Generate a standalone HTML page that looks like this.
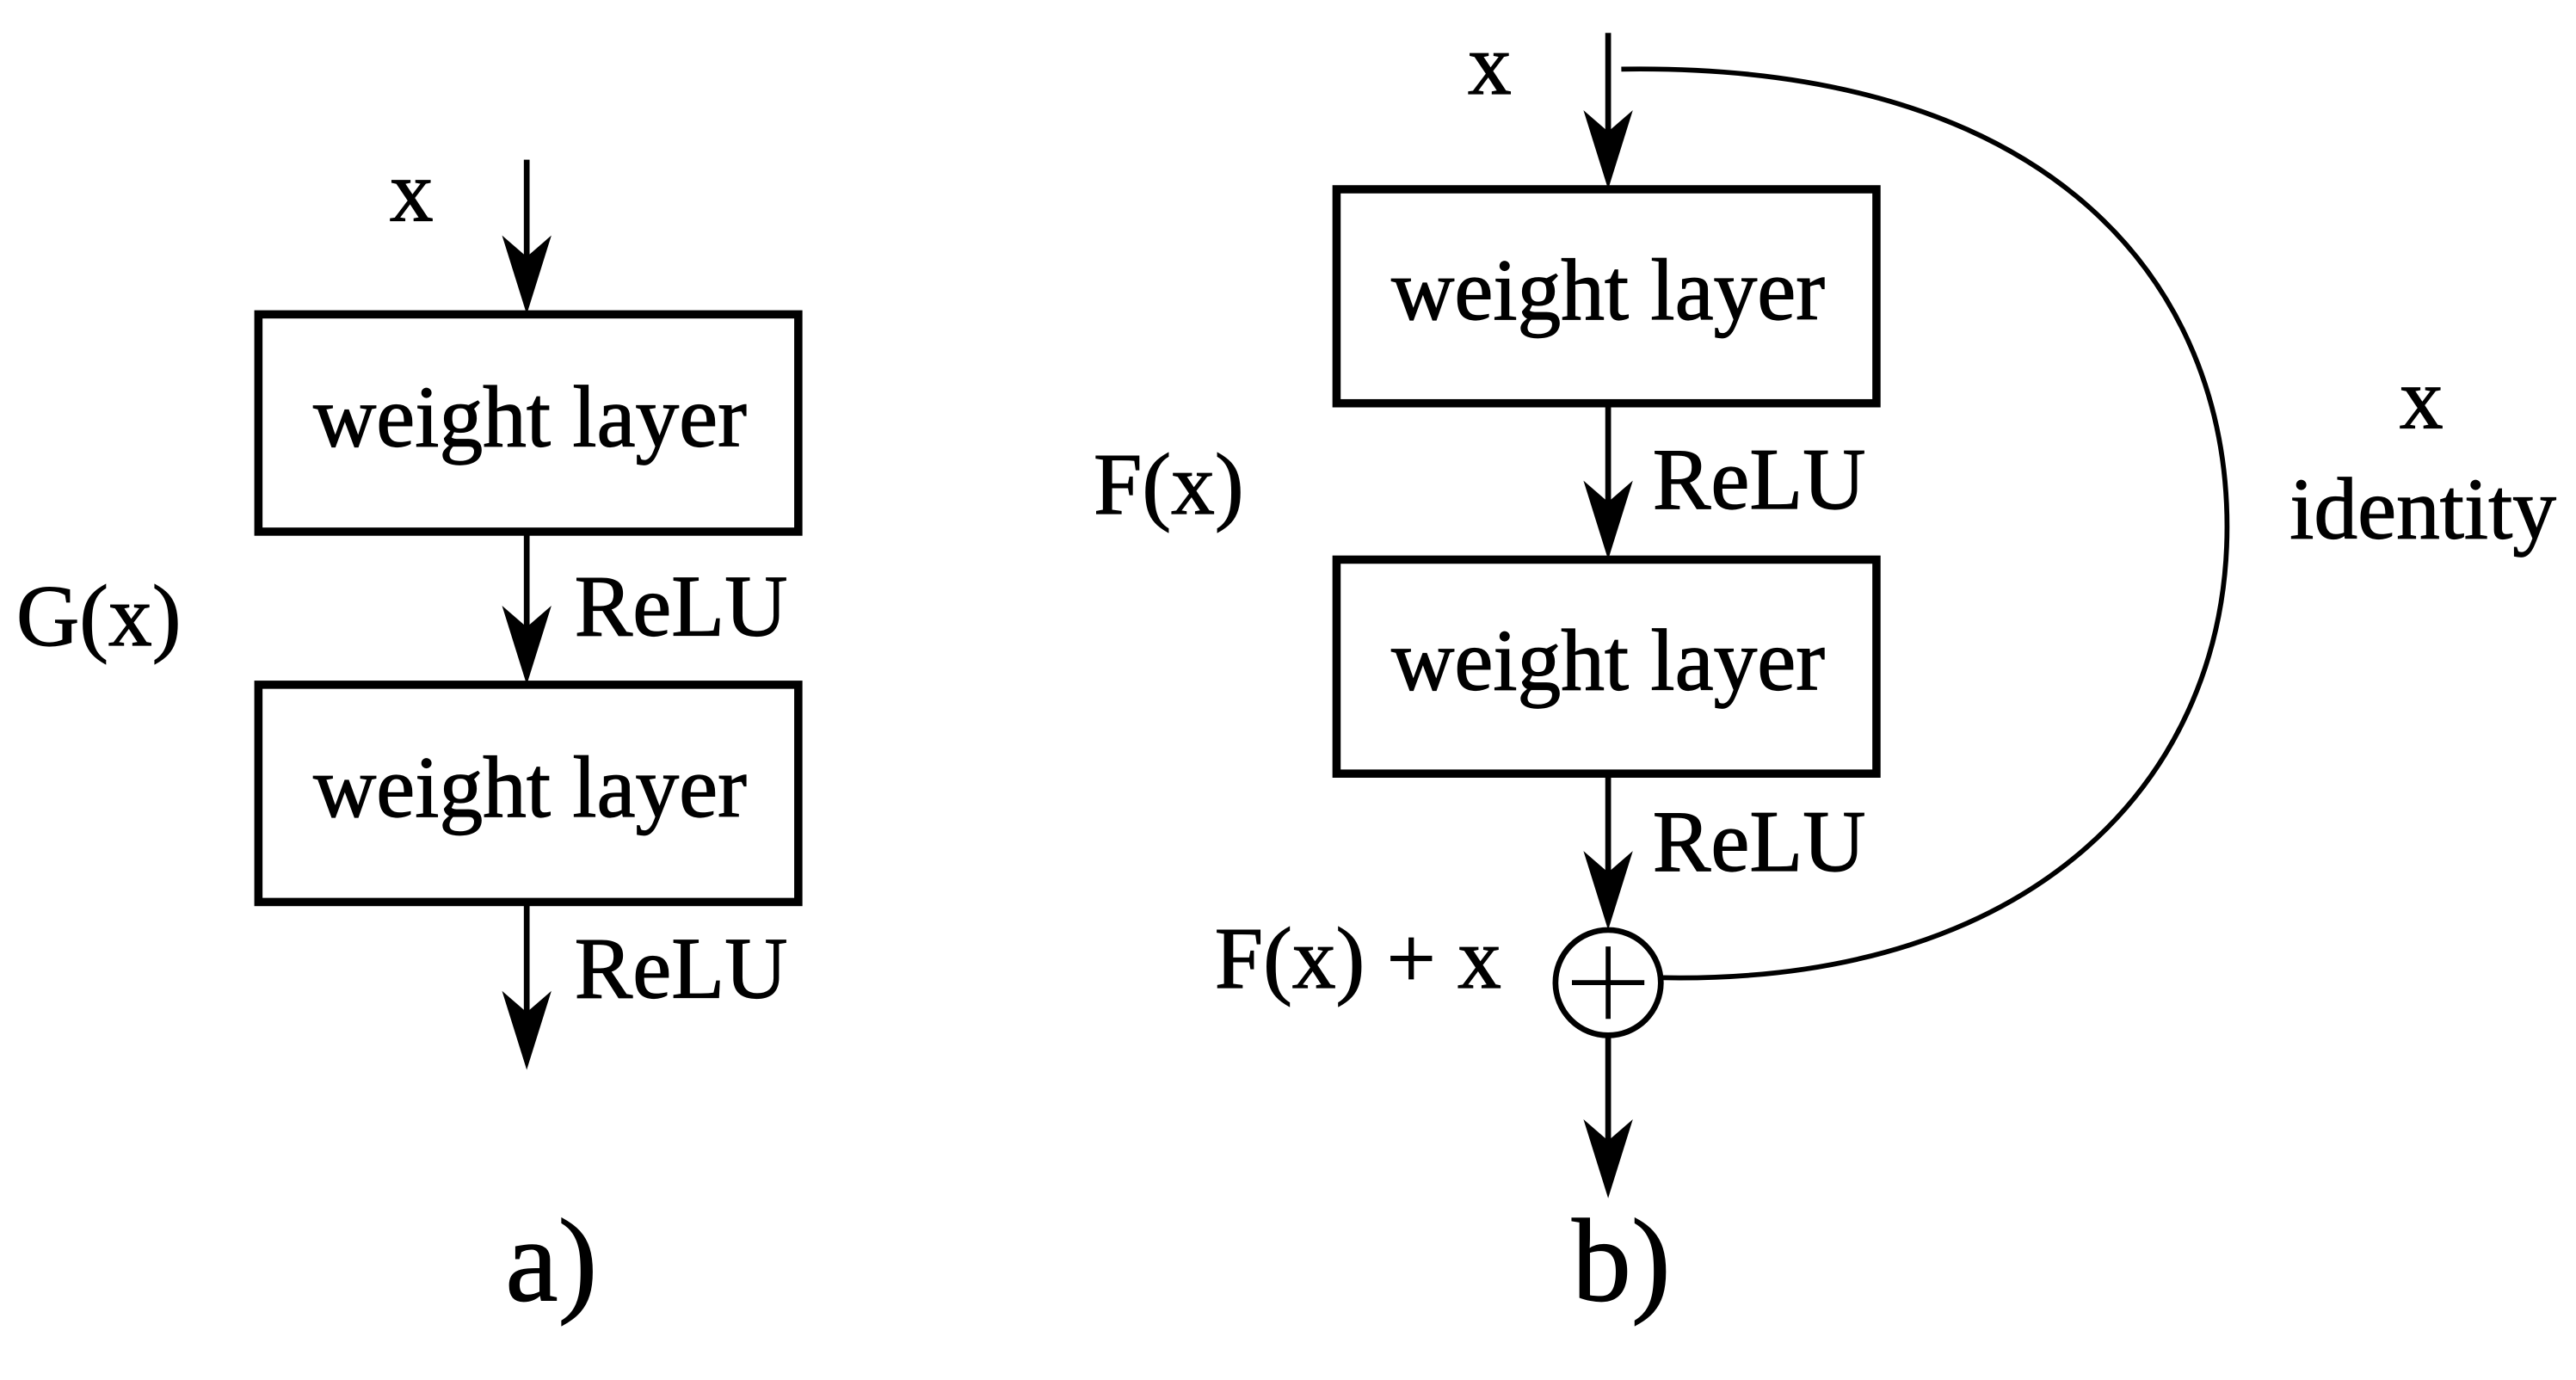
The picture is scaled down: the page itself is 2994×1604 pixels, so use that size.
<!DOCTYPE html>
<html><head><style>html,body{margin:0;padding:0;background:#fff}svg{display:block}</style></head>
<body>
<svg width="2994" height="1604" viewBox="0 0 1565 838.4" preserveAspectRatio="none" xmlns="http://www.w3.org/2000/svg" font-family="'Liberation Serif', serif" fill="#000">
<rect width="1565" height="839" fill="#fff"/>
<g fill="none" stroke="#000">
<line x1="320" y1="97" x2="320" y2="170" stroke-width="3.5"/>
<rect x="157" y="191" width="328" height="132" stroke-width="5"/>
<line x1="320" y1="323" x2="320" y2="395" stroke-width="3.5"/>
<rect x="157" y="416" width="328" height="132" stroke-width="5"/>
<line x1="320" y1="548" x2="320" y2="630" stroke-width="3.5"/>
<line x1="977" y1="20" x2="977" y2="95" stroke-width="3.5"/>
<rect x="812" y="115" width="328" height="130" stroke-width="5"/>
<line x1="977" y1="245" x2="977" y2="320" stroke-width="3.5"/>
<rect x="812" y="340" width="328" height="130" stroke-width="5"/>
<line x1="977" y1="470" x2="977" y2="545" stroke-width="3.5"/>
<circle cx="977" cy="597" r="32" stroke-width="3.5"/>
<line x1="977" y1="629" x2="977" y2="708" stroke-width="3.5"/>
<path d="M985 42 C1250 38 1353 175 1353 320 C1353 470 1240 598 1010 594" stroke-width="3"/>
<line x1="977" y1="575" x2="977" y2="619" stroke-width="3"/>
<line x1="955" y1="597" x2="999" y2="597" stroke-width="3"/>
</g>
<g>
<path d="M320 191 L305 143 L320 156 L335 143 Z"/>
<path d="M320 416 L305 368 L320 381 L335 368 Z"/>
<path d="M320 650 L305 602 L320 615 L335 602 Z"/>
<path d="M977 115 L962 67 L977 80 L992 67 Z"/>
<path d="M977 340 L962 292 L977 305 L992 292 Z"/>
<path d="M977 565 L962 517 L977 530 L992 517 Z"/>
<path d="M977 728 L962 680 L977 693 L992 680 Z"/>
</g>
<g font-size="53" stroke="#000" stroke-width="0.6">
<text x="322" y="271" text-anchor="middle">weight layer</text>
<text x="322" y="496" text-anchor="middle">weight layer</text>
<text x="977" y="194" text-anchor="middle">weight layer</text>
<text x="977" y="419" text-anchor="middle">weight layer</text>
<text x="349" y="386">ReLU</text>
<text x="349" y="606">ReLU</text>
<text x="1004" y="309">ReLU</text>
<text x="1004" y="529">ReLU</text>
<text x="250" y="134" text-anchor="middle">x</text>
<text x="905" y="57" text-anchor="middle">x</text>
<text x="60" y="392" text-anchor="middle">G(x)</text>
<text x="710" y="312" text-anchor="middle">F(x)</text>
<text x="825" y="600" text-anchor="middle">F(x) + x</text>
<text x="1471" y="260" text-anchor="middle">x</text>
<text x="1472" y="327" text-anchor="middle">identity</text>
</g>
<g font-size="72" stroke="#000" stroke-width="0.6">
<text x="335" y="790" text-anchor="middle">a)</text>
<text x="985" y="790" text-anchor="middle">b)</text>
</g>
</svg>
</body></html>
